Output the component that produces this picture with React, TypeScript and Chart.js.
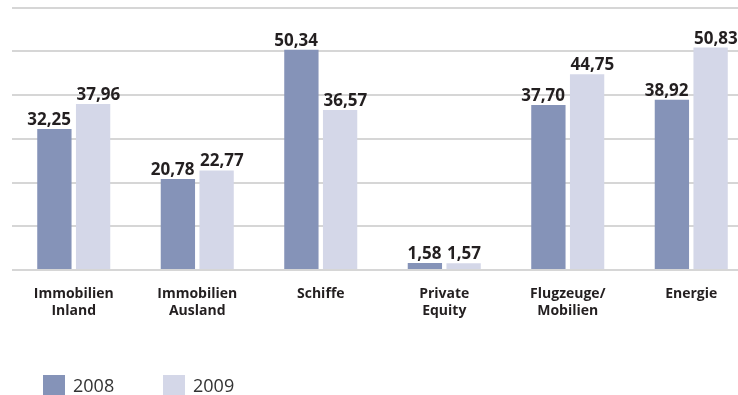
import React, { useEffect, useRef } from "react";
import { Chart, registerables } from "chart.js";

Chart.register(...registerables);

// Fondsvolumen je Assetklasse, 2008 gegenüber 2009
const categories: (string | string[])[] = [
  ["Immobilien", "Inland"],
  ["Immobilien", "Ausland"],
  "Schiffe",
  ["Private", "Equity"],
  ["Flugzeuge/", "Mobilien"],
  "Energie",
];
const values2008 = [32.25, 20.78, 50.34, 1.58, 37.7, 38.92];
const values2009 = [37.96, 22.77, 36.57, 1.57, 44.75, 50.83];
const seriesLabels = ["2008", "2009"];

const COLOR_2008 = "#8593b8";
const COLOR_2009 = "#d4d7e8";
const TEXT = "#231f20";
const GRID = "#d6d6d6";

const fmt = (v: number) => v.toFixed(2).replace(".", ",");

// value labels: 2008 flush right with its bar, 2009 flush left
const valueLabels = {
  id: "valueLabels",
  afterDatasetsDraw(chart: any) {
    const ctx = chart.ctx;
    ctx.save();
    ctx.font = "bold 17px 'Open Sans', sans-serif";
    ctx.fillStyle = TEXT;
    ctx.textBaseline = "alphabetic";
    chart.data.datasets.forEach((ds: any, di: number) => {
      const meta = chart.getDatasetMeta(di);
      meta.data.forEach((bar: any, i: number) => {
        const half = bar.width / 2;
        const y = bar.y - 4;
        if (di === 0) {
          ctx.textAlign = "right";
          ctx.fillText(fmt(ds.data[i]), bar.x + half - 0.5, y);
        } else {
          ctx.textAlign = "left";
          ctx.fillText(fmt(ds.data[i]), bar.x - half + 0.5, y);
        }
      });
    });
    ctx.restore();
  },
};

// legend in the lower left corner
const bottomLegend = {
  id: "bottomLegend",
  afterDraw(chart: any) {
    const ctx = chart.ctx;
    ctx.save();
    ctx.font = "18px 'Open Sans', sans-serif";
    ctx.textBaseline = "alphabetic";
    ctx.textAlign = "left";
    const xs = [43, 163];
    chart.data.datasets.forEach((ds: any, di: number) => {
      ctx.fillStyle = ds.backgroundColor;
      ctx.fillRect(xs[di], 375, 22, 22);
      ctx.fillStyle = "#333333";
      ctx.fillText(ds.label, xs[di] + 30, 392);
    });
    ctx.restore();
  },
};

export default function App() {
  const canvasRef = useRef<HTMLCanvasElement | null>(null);

  useEffect(() => {
    document.body.style.overflow = "hidden";
    const canvas = canvasRef.current;
    if (!canvas) return;
    const chart = new Chart(canvas, {
      type: "bar",
      data: {
        labels: categories,
        datasets: [
          {
            label: seriesLabels[0],
            data: values2008,
            backgroundColor: COLOR_2008,
            categoryPercentage: 0.627,
            barPercentage: 0.886,
          },
          {
            label: seriesLabels[1],
            data: values2009,
            backgroundColor: COLOR_2009,
            categoryPercentage: 0.627,
            barPercentage: 0.886,
          },
        ],
      },
      options: {
        responsive: false,
        animation: false,
        devicePixelRatio: 1,
        layout: { padding: { left: 12, right: 0, top: 7.5, bottom: 0 } },
        plugins: {
          legend: { display: false },
          tooltip: { enabled: false },
        },
        scales: {
          x: {
            grid: { display: false, drawTicks: false },
            border: { display: false },
            ticks: {
              color: TEXT,
              padding: 16,
              maxRotation: 0,
              autoSkip: false,
              font: { family: "'Open Sans', sans-serif", size: 14, weight: "bold", lineHeight: 1.2 },
            },
            afterFit(scale: any) {
              scale.height = 125;
            },
          },
          y: {
            min: 0,
            max: 60,
            ticks: { display: false, stepSize: 10 },
            grid: { color: GRID, lineWidth: 2, drawTicks: false },
            border: { display: false },
            afterFit(scale: any) {
              scale.width = 0;
            },
          },
        },
      },
      plugins: [valueLabels, bottomLegend],
    });
    return () => chart.destroy();
  }, []);

  return (
    <div style={{ position: "fixed", left: 0, top: 0, width: 753, height: 395, background: "#fff" }}>
      <canvas ref={canvasRef} width={753} height={395} />
    </div>
  );
}
